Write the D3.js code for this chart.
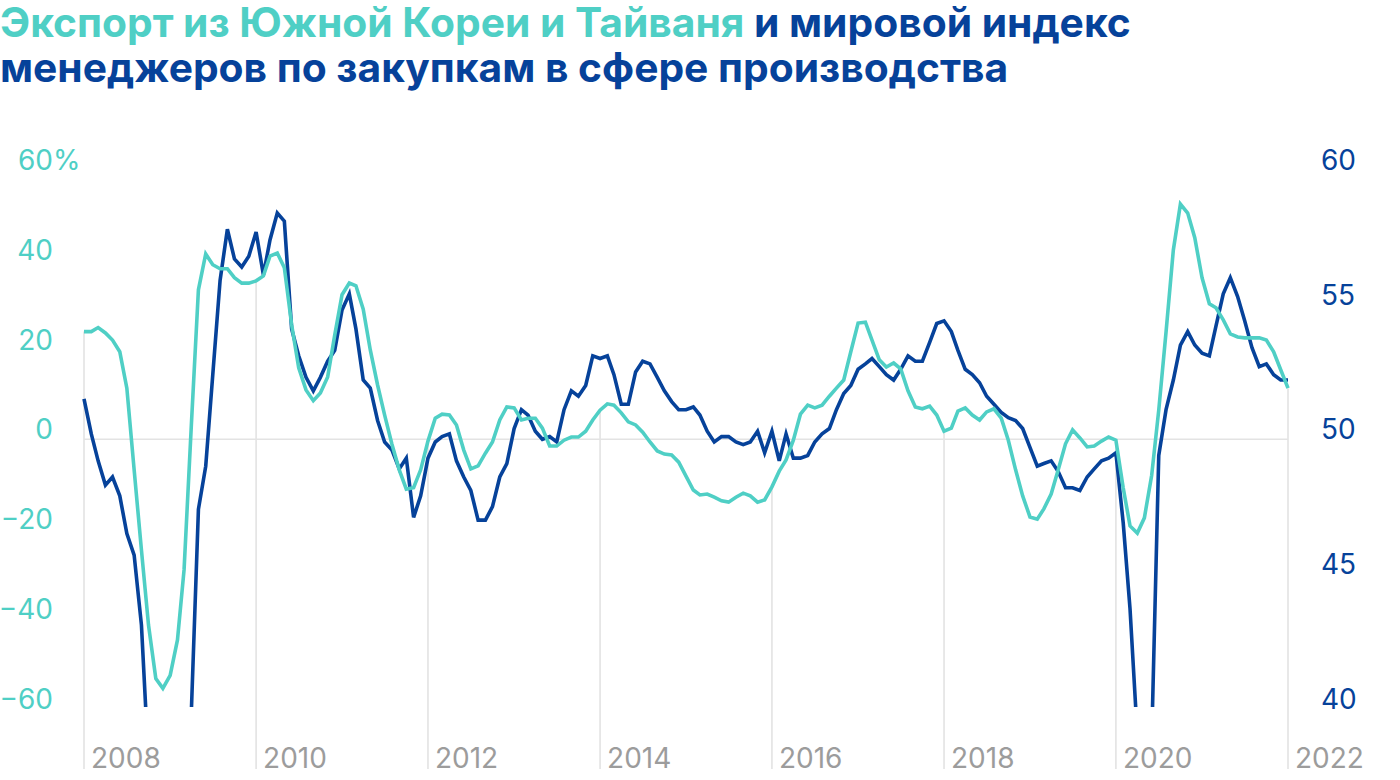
<!DOCTYPE html>
<html>
<head>
<meta charset="utf-8">
<script src="https://cdn.jsdelivr.net/npm/d3@7"></script>
<style>
  body { margin: 0; background: #fff; }
  svg { display: block; font-family: Inter, Roboto, sans-serif; }
</style>
</head>
<body>
<svg id="chart"></svg>
<script>
// Export growth of South Korea + Taiwan, % y/y (left axis)
const exportGrowth = [
  24.0, 24.0, 24.9, 23.7, 22.1, 19.5, 11.4, -6.8, -24.7, -41.4, -53.3, -55.5,
  -52.6, -44.7, -29.1, 3.2, 33.3, 41.3, 38.9, 38.0, 38.0, 36.0, 34.8, 34.8,
  35.3, 36.4, 40.8, 41.5, 38.2, 25.5, 15.9, 11.0, 8.6, 10.3, 13.9, 23.2,
  32.2, 34.8, 34.2, 29.0, 19.9, 12.1, 5.4, -1.1, -6.8, -11.1, -10.8, -6.8,
  -0.4, 4.7, 5.6, 5.4, 3.2, -2.4, -6.6, -5.9, -3.1, -0.6, 4.3, 7.2,
  7.0, 4.3, 4.7, 4.7, 2.5, -1.5, -1.5, -0.2, 0.5, 0.5, 1.8, 4.3,
  6.5, 7.9, 7.6, 5.9, 3.9, 3.2, 1.6, -0.6, -2.6, -3.3, -3.5, -5.1,
  -8.2, -11.3, -12.4, -12.2, -12.9, -13.7, -14.0, -12.9, -12.0, -12.6, -14.0, -13.5,
  -10.6, -7.1, -4.6, -0.2, 5.6, 7.6, 7.0, 7.6, 9.6, 11.4, 13.2, 19.5,
  25.9, 26.1, 22.1, 17.7, 16.1, 17.0, 15.7, 10.8, 7.2, 6.8, 7.4, 5.4,
  1.8, 2.5, 6.3, 7.0, 5.4, 4.3, 6.1, 6.8, 4.7, -0.2, -6.8, -12.6,
  -17.3, -17.8, -15.5, -12.2, -6.8, -1.0, 2.1, 0.3, -1.7, -1.5, -0.4, 0.5,
  -0.2, -10.8, -19.3, -20.9, -17.5, -8.0, 6.5, 23.9, 42.2, 52.4, 50.4, 44.9,
  36.0, 30.2, 29.3, 26.6, 23.5, 22.8, 22.6, 22.6, 22.6, 22.1, 19.5, 15.5,
  11.4
]

// Global manufacturing PMI (right axis)
const globalPmi = [
  51.5, 50.2, 49.2, 48.3, 48.6, 47.9, 46.5, 45.7, 43.1, 38.0, 36.0, 34.5,
  34.0, 35.0, 37.0, 39.9, 47.4, 49.0, 52.4, 55.9, 57.8, 56.7, 56.4, 56.8,
  57.7, 56.1, 57.4, 58.4, 58.1, 54.1, 53.1, 52.3, 51.8, 52.3, 52.9, 53.3,
  54.8, 55.4, 54.1, 52.2, 51.9, 50.7, 49.9, 49.6, 48.9, 49.3, 47.1, 47.9,
  49.3, 49.9, 50.1, 50.2, 49.2, 48.6, 48.1, 47.0, 47.0, 47.5, 48.6, 49.1,
  50.4, 51.1, 50.9, 50.3, 50.0, 50.1, 49.9, 51.1, 51.8, 51.6, 52.0, 53.1,
  53.0, 53.1, 52.4, 51.3, 51.3, 52.5, 52.9, 52.8, 52.3, 51.8, 51.4, 51.1,
  51.1, 51.2, 50.9, 50.3, 49.9, 50.1, 50.1, 49.9, 49.8, 49.9, 50.3, 49.5,
  50.3, 49.2, 50.2, 49.3, 49.3, 49.4, 49.9, 50.2, 50.4, 51.1, 51.7, 52.0,
  52.6, 52.8, 53.0, 52.7, 52.4, 52.2, 52.6, 53.1, 52.9, 52.9, 53.6, 54.3,
  54.4, 54.0, 53.3, 52.6, 52.4, 52.1, 51.6, 51.3, 51.0, 50.8, 50.7, 50.4,
  49.7, 49.0, 49.1, 49.2, 48.8, 48.2, 48.2, 48.1, 48.6, 48.9, 49.2, 49.3,
  49.5, 46.9, 43.7, 39.0, 38.1, 38.8, 49.4, 51.1, 52.2, 53.5, 54.0, 53.5,
  53.2, 53.1, 54.2, 55.4, 56.0, 55.3, 54.4, 53.4, 52.7, 52.8, 52.4, 52.2,
  52.2
]

const leftTicks = [60, 40, 20, 0, -20, -40, -60]
const rightTicks = [60, 55, 50, 45, 40]
const yearTicks = [2008, 2010, 2012, 2014, 2016, 2018, 2020, 2022]

const titleTeal = 'Экспорт из Южной Кореи и Тайваня'
const titleBlue1 = ' и мировой индекс'
const titleBlue2 = 'менеджеров по закупкам в сфере производства'

const teal = '#4fcfc5'
const blue = '#06429a'
const gridColor = '#e3e3e3'
const labelGrey = '#9c9c9c'

const width = 1400, height = 780
const plot = {left: 84, right: 1288, top: 170, bottom: 708.6, floor: 769}

const svg = d3.select('#chart').attr('width', width).attr('height', height)

const months = d3.timeMonth.range(new Date(2008, 0, 1), new Date(2022, 1, 1))
const data = months.map((d, i) => ({date: d, exp: exportGrowth[i], pmi: globalPmi[i]}))

const x = d3.scaleTime()
  .domain([new Date(2008, 0, 1), new Date(2022, 0, 1)])
  .range([plot.left, plot.right])
const yLeft = d3.scaleLinear().domain([-60, 60]).range([plot.bottom, plot.top])
const yRight = d3.scaleLinear().domain([40, 60]).range([plot.bottom, plot.top])

// title, sized to the reference width
const title = svg.append('g')
const line1 = title.append('text').attr('x', 0).attr('y', 37)
  .attr('font-weight', 700).attr('font-size', 36)
line1.append('tspan').attr('fill', teal).text(titleTeal)
line1.append('tspan').attr('fill', blue).text(titleBlue1)
const line2 = title.append('text').attr('x', 0).attr('y', 82)
  .attr('font-weight', 700).attr('font-size', 36).attr('fill', blue)
  .text(titleBlue2)
const titleSize = 36 * 1131 / line1.node().getComputedTextLength()
line1.attr('font-size', titleSize)
line2.attr('font-size', titleSize)

// drop lines for the year ticks
const byYear = new Map(data.map(d => [d.date.getFullYear() + '-' + d.date.getMonth(), d]))
svg.append('g')
  .selectAll('line')
  .data(yearTicks)
  .join('line')
  .attr('x1', d => x(new Date(d, 0, 1)))
  .attr('x2', d => x(new Date(d, 0, 1)))
  .attr('y1', d => yLeft(byYear.get(d + '-0').exp))
  .attr('y2', plot.floor)
  .attr('stroke', gridColor)
  .attr('stroke-width', 1.6)

// zero line
svg.append('line')
  .attr('x1', plot.left).attr('x2', plot.right)
  .attr('y1', yLeft(0)).attr('y2', yLeft(0))
  .attr('stroke', gridColor)
  .attr('stroke-width', 1.6)

// year labels
svg.append('g')
  .selectAll('text')
  .data(yearTicks)
  .join('text')
  .attr('x', d => x(new Date(d, 0, 1)) + 7)
  .attr('y', 768)
  .attr('font-size', 28)
  .attr('fill', labelGrey)
  .text(d => d)

// left axis labels
const leftG = svg.append('g').attr('fill', teal).attr('font-size', 28)
leftG.selectAll('text')
  .data(leftTicks)
  .join('text')
  .attr('x', 53)
  .attr('y', d => yLeft(d))
  .attr('text-anchor', 'end')
  .text(d => d < 0 ? '\u2212' + Math.abs(d) : d)
leftG.append('text')
  .attr('x', 53)
  .attr('y', yLeft(60))
  .text('%')

// right axis labels
svg.append('g')
  .attr('fill', blue).attr('font-size', 28)
  .selectAll('text')
  .data(rightTicks)
  .join('text')
  .attr('x', 1321)
  .attr('y', d => yRight(d))
  .text(d => d)

// lines, cut at the bottom of the scale
svg.append('clipPath').attr('id', 'plot-clip')
  .append('rect')
  .attr('x', 0).attr('y', 0)
  .attr('width', width).attr('height', yRight(40) - 1.5)

const expLine = d3.line().x(d => x(d.date)).y(d => yLeft(d.exp))
const pmiLine = d3.line().x(d => x(d.date)).y(d => yRight(d.pmi))

const lines = svg.append('g').attr('clip-path', 'url(#plot-clip)')
lines.append('path')
  .datum(data)
  .attr('d', pmiLine)
  .attr('fill', 'none')
  .attr('stroke', blue)
  .attr('stroke-width', 3.6)
lines.append('path')
  .datum(data)
  .attr('d', expLine)
  .attr('fill', 'none')
  .attr('stroke', teal)
  .attr('stroke-width', 3.6)
</script>
</body>
</html>
